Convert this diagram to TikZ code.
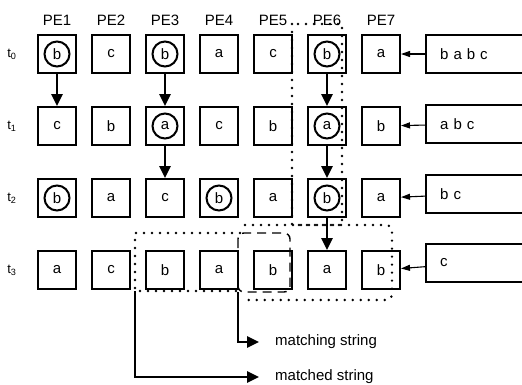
\documentclass[tikz,border=0pt]{standalone}
\usepackage{fontspec}
\setmainfont{Liberation Sans}
\usetikzlibrary{arrows.meta, positioning}

\begin{document}
\begin{tikzpicture}[x=1pt, y=-1pt,
        pe/.style={draw, line width=2pt, minimum width=38pt, minimum height=38pt,
                   inner sep=0pt, font=\fontsize{15}{17}\selectfont},
        hit/.style={pe, path picture={\draw[line width=2pt]
                   (path picture bounding box.center) circle (12.5pt);}},
        lbl/.style={font=\fontsize{15}{17}\selectfont},
        tlbl/.style={font=\fontsize{13}{15}\selectfont},
        inbox/.style={minimum height=38pt, text width=68pt, inner xsep=14pt,
                      inner ysep=0pt, align=left, font=\fontsize{15}{17}\selectfont},
        note/.style={lbl, anchor=west, inner xsep=16pt},
        move/.style={-{Triangle[length=12pt,width=11pt]}, line width=2.6pt},
        feed/.style={-{Triangle[length=9pt,width=6pt]}, line width=1.1pt},
        dotfr/.style={line width=2.7pt, line cap=round, dash pattern=on 0pt off 8pt},
        dashfr/.style={line width=1.4pt, dash pattern=on 9pt off 6pt}
      ]
        \useasboundingbox (0,0) rectangle (522,384);

        % t0
        \node[hit] (t0p1) at (57,54) {b};
        \node[pe]  (t0p2) [right=14pt of t0p1] {c};
        \node[hit] (t0p3) [right=14pt of t0p2] {b};
        \node[pe]  (t0p4) [right=14pt of t0p3] {a};
        \node[pe]  (t0p5) [right=14pt of t0p4] {c};
        \node[hit] (t0p6) [right=14pt of t0p5] {b};
        \node[pe]  (t0p7) [right=14pt of t0p6] {a};
        % t1
        \node[pe]  (t1p1) [below=32pt of t0p1] {c};
        \node[pe]  (t1p2) [right=14pt of t1p1] {b};
        \node[hit] (t1p3) [right=14pt of t1p2] {a};
        \node[pe]  (t1p4) [right=14pt of t1p3] {c};
        \node[pe]  (t1p5) [right=14pt of t1p4] {b};
        \node[hit] (t1p6) [right=14pt of t1p5] {a};
        \node[pe]  (t1p7) [right=14pt of t1p6] {b};
        % t2
        \node[hit] (t2p1) [below=32pt of t1p1] {b};
        \node[pe]  (t2p2) [right=14pt of t2p1] {a};
        \node[pe]  (t2p3) [right=14pt of t2p2] {c};
        \node[hit] (t2p4) [right=14pt of t2p3] {b};
        \node[pe]  (t2p5) [right=14pt of t2p4] {a};
        \node[hit] (t2p6) [right=14pt of t2p5] {b};
        \node[pe]  (t2p7) [right=14pt of t2p6] {a};
        % t3
        \node[pe]  (t3p1) [below=32pt of t2p1] {a};
        \node[pe]  (t3p2) [right=14pt of t3p1] {c};
        \node[pe]  (t3p3) [right=14pt of t3p2] {b};
        \node[pe]  (t3p4) [right=14pt of t3p3] {a};
        \node[pe]  (t3p5) [right=14pt of t3p4] {b};
        \node[pe]  (t3p6) [right=14pt of t3p5] {a};
        \node[pe]  (t3p7) [right=14pt of t3p6] {b};

        % column and row labels
        \node[lbl] (pe1) [above=5pt of t0p1] {PE1};
        \node[lbl] (pe2) [above=5pt of t0p2] {PE2};
        \node[lbl] (pe3) [above=5pt of t0p3] {PE3};
        \node[lbl] (pe4) [above=5pt of t0p4] {PE4};
        \node[lbl] (pe5) [above=5pt of t0p5] {PE5};
        \node[lbl] (pe6) [above=5pt of t0p6] {PE6};
        \node[lbl] (pe7) [above=5pt of t0p7] {PE7};
        \node[tlbl] (t0) [left=17pt of t0p1] {t\textsubscript{0}};
        \node[tlbl] (t1) [left=17pt of t1p1] {t\textsubscript{1}};
        \node[tlbl] (t2) [left=17pt of t2p1] {t\textsubscript{2}};
        \node[tlbl] (t3) [left=17pt of t3p1] {t\textsubscript{3}};

        % input strings
        \node[inbox, anchor=west] (in0) at (426,54)  {b a b c};
        \node[inbox, anchor=west] (in1) at (426,124) {a b c};
        \node[inbox, anchor=west] (in2) at (426,194) {b c};
        \node[inbox, anchor=west] (in3) at (426,263) {c};
        \draw[line width=1.8pt] (in0.north east) -- (in0.north west) -- (in0.south west) -- (in0.south east);
        \draw[line width=1.8pt] (in1.north east) -- (in1.north west) -- (in1.south west) -- (in1.south east);
        \draw[line width=1.8pt] (in2.north east) -- (in2.north west) -- (in2.south west) -- (in2.south east);
        \draw[line width=1.8pt] (in3.north east) -- (in3.north west) -- (in3.south west) -- (in3.south east);
        \draw[feed] (in0) -- (t0p7);
        \draw[feed] (in1) -- (t1p7);
        \draw[feed] (in2) -- (t2p7);
        \draw[feed] (in3) -- (t3p7);

        % shifts
        \draw[move] (t0p1) -- (t1p1);
        \draw[move] (t0p3) -- (t1p3);
        \draw[move] (t1p3) -- (t2p3);
        \draw[move] (t0p6) -- (t1p6);
        \draw[move] (t1p6) -- (t2p6);
        \draw[move] (t2p6) -- (t3p6);

        % frames
        \draw[dotfr] (292,24) rectangle (342,225);
        \draw[dotfr] (240,233) -- (135,233) -- (135,291) -- (240,291);
        \draw[dotfr, rounded corners=6pt] (245,225) -- (392,225) -- (392,300) -- (245,300);
        \draw[dashfr, rounded corners=6pt] (238,233) rectangle (290,292);

        % notes
        \coordinate (mgc) at (238,292);
        \coordinate (mdc) at (135,291);
        \node[note] (mtchg) at (259,342) {matching string};
        \node[note] (mtchd) at (259,377) {matched string};
        \draw[move] (mgc) |- (mtchg.west);
        \draw[move] (mdc) |- (mtchd.west);
      \end{tikzpicture}
\end{document}
